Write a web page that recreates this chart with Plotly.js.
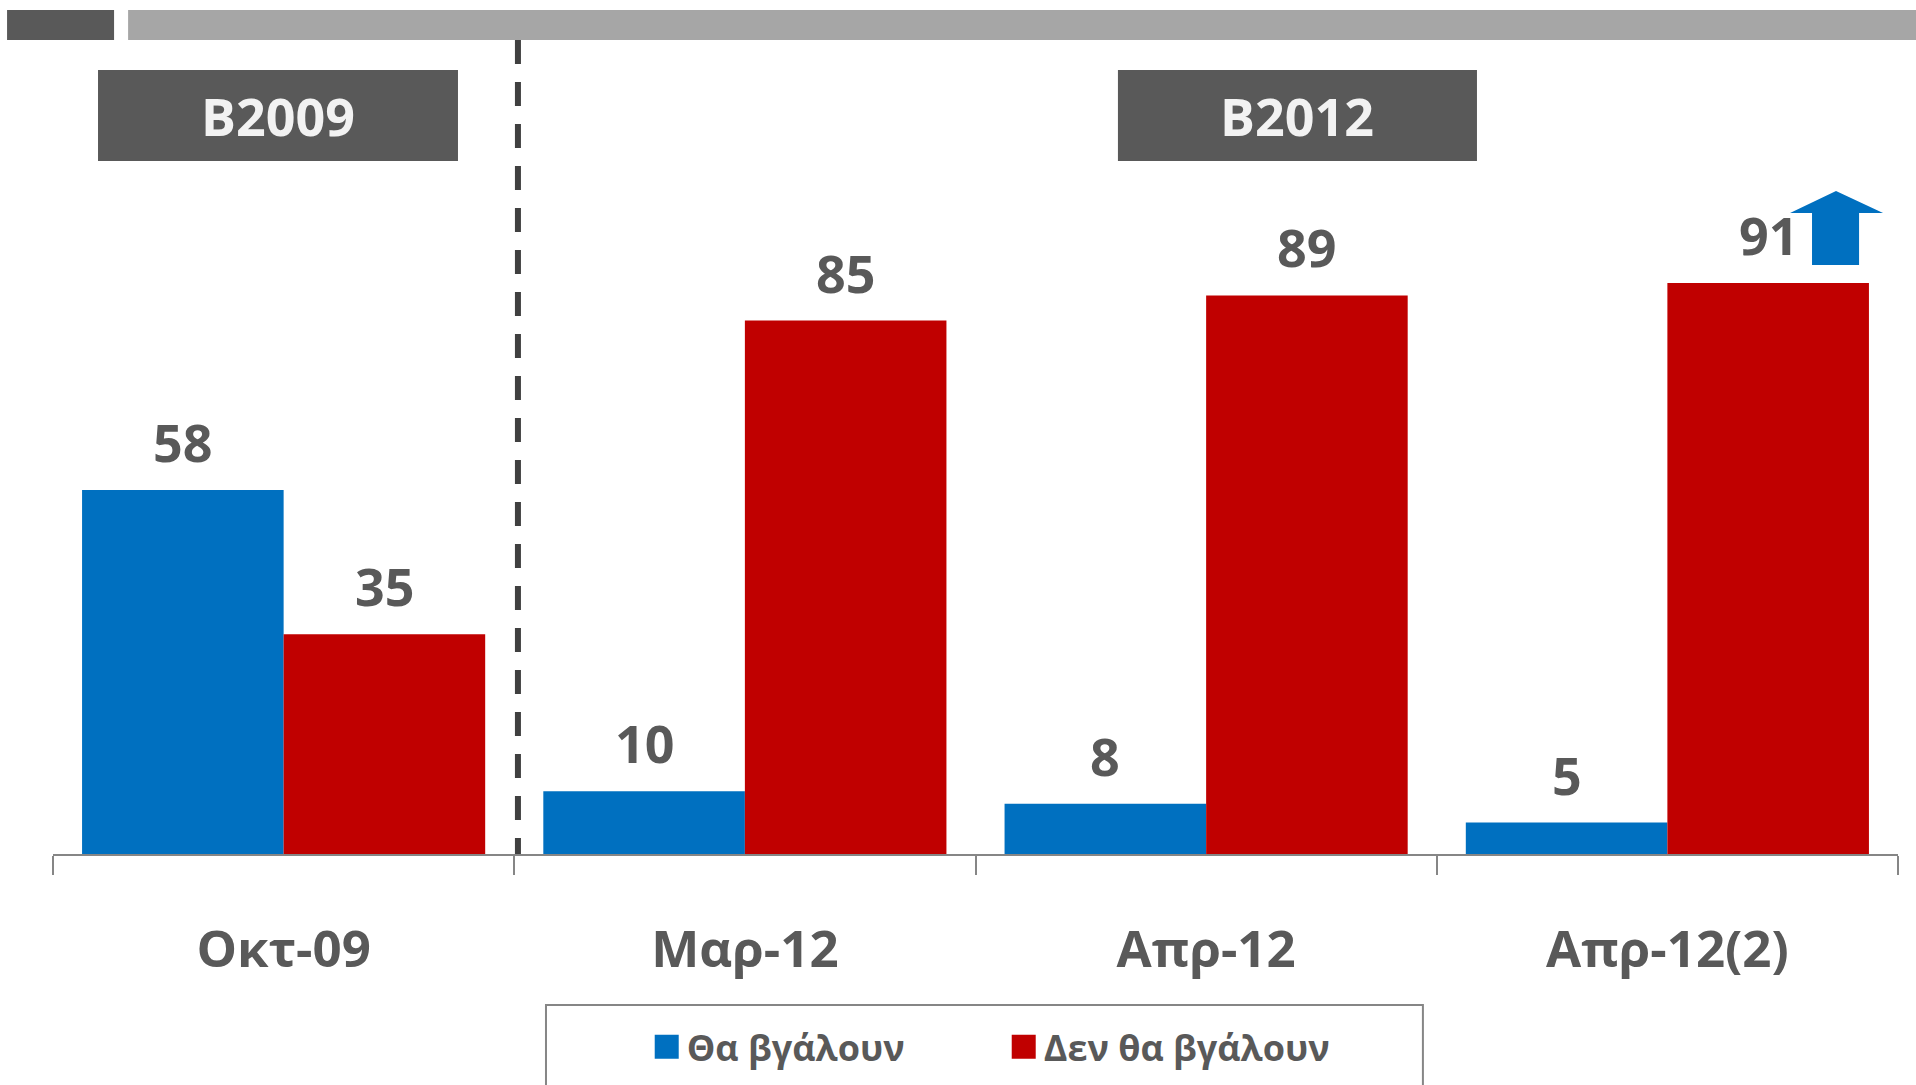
<!DOCTYPE html>
<html>
<head>
<meta charset="utf-8">
<script src="https://cdn.plot.ly/plotly-3.0.1.min.js"></script>
<style>
  html, body { margin: 0; padding: 0; background: #ffffff; }
  #chart { width: 1916px; height: 1085px; }
</style>
</head>
<body>
<div id="chart"></div>
<script>
// ---- data ----
const categories = ['Οκτ-09', 'Μαρ-12', 'Απρ-12', 'Απρ-12(2)'];
const willIssue = [58, 10, 8, 5];          // Θα βγάλουν
const willNotIssue = [35, 85, 89, 91];     // Δεν θα βγάλουν
const seriesNames = ['Θα βγάλουν', 'Δεν θα βγάλουν'];
const groupLabels = ['B2009', 'B2012'];

// ---- style ----
const FONT = "'Open Sans', 'Noto Sans', sans-serif";
const TEXT = '#595959';
const BLUE = '#0070C0';
const RED = '#C00000';
const BARGAP = 0.126;

const traces = [
  { type: 'bar', name: seriesNames[0], x: categories, y: willIssue,
    marker: { color: BLUE }, hoverinfo: 'none' },
  { type: 'bar', name: seriesNames[1], x: categories, y: willNotIssue,
    marker: { color: RED }, hoverinfo: 'none' }
];

// value labels above bars, positioned from the grouped-bar geometry
const half = (1 - BARGAP) / 4;
const annotations = [];
[willIssue, willNotIssue].forEach((vals, s) => {
  vals.forEach((v, i) => {
    annotations.push({
      xref: 'x', yref: 'y', x: i + (s === 0 ? -half : half), y: v,
      text: String(v), showarrow: false, yanchor: 'bottom', yshift: 11,
      font: { family: FONT, size: 52, color: TEXT, weight: 700 }
    });
  });
});

// group header boxes
const boxes = [[0.0244, 0.2195], [0.5772, 0.7718]];
boxes.forEach((b, k) => {
  annotations.push({
    xref: 'paper', yref: 'paper', x: (b[0] + b[1]) / 2, y: (0.9631 + 0.8514) / 2,
    text: groupLabels[k], showarrow: false, xanchor: 'center', yanchor: 'middle',
    font: { family: FONT, size: 52, color: '#F2F2F2', weight: 700 }
  });
});

const shapes = [
  // top decorative bars
  { type: 'rect', xref: 'paper', yref: 'paper', x0: -0.0249, x1: 0.0331, y0: 1.0, y1: 1.0369,
    fillcolor: '#595959', line: { width: 0 } },
  { type: 'rect', xref: 'paper', yref: 'paper', x0: 0.0407, x1: 1.02, y0: 1.0, y1: 1.0369,
    fillcolor: '#A6A6A6', line: { width: 0 } },
  // header boxes
  { type: 'rect', xref: 'paper', yref: 'paper', x0: boxes[0][0], x1: boxes[0][1], y0: 0.8514, y1: 0.9631,
    fillcolor: '#595959', line: { width: 0 } },
  { type: 'rect', xref: 'paper', yref: 'paper', x0: boxes[1][0], x1: boxes[1][1], y0: 0.8514, y1: 0.9631,
    fillcolor: '#595959', line: { width: 0 } },
  // dashed separator
  { type: 'line', xref: 'paper', yref: 'paper', x0: 0.2520, x1: 0.2520, y0: 1.0, y1: 0.0,
    line: { color: '#404040', width: 6, dash: '24px,18px' } },
  // blue up arrow
  { type: 'path', xref: 'paper', yref: 'paper',
    path: 'M 0.9664 0.8145 L 0.9919 0.7875 L 0.9789 0.7875 L 0.9789 0.7236 L 0.9534 0.7236 L 0.9534 0.7875 L 0.9415 0.7875 Z',
    fillcolor: BLUE, line: { width: 0 } },
  // legend frame
  { type: 'rect', xref: 'paper', yref: 'paper', x0: 0.2672, x1: 0.7425, y0: -0.1855, y1: -0.35,
    fillcolor: 'rgba(0,0,0,0)', line: { color: '#868686', width: 2 } }
];

const layout = {
  width: 1916, height: 1085,
  margin: { l: 53, r: 18, t: 40, b: 231, pad: 0, autoexpand: false },
  paper_bgcolor: '#ffffff', plot_bgcolor: '#ffffff',
  barmode: 'group', bargap: BARGAP, bargroupgap: 0,
  showlegend: true,
  legend: {
    orientation: 'h', x: 0.3218, xanchor: 'left', y: -0.237, yanchor: 'middle',
    font: { family: FONT, size: 36, color: TEXT, weight: 700 },
    bgcolor: 'rgba(0,0,0,0)', borderwidth: 0, entrywidth: 312, traceorder: 'normal'
  },
  xaxis: {
    type: 'category', categoryorder: 'array', categoryarray: categories,
    showline: true, linecolor: '#868686', linewidth: 2,
    ticks: 'outside', tickson: 'boundaries', ticklen: 19, tickwidth: 2, tickcolor: '#868686',
    ticklabelstandoff: 50,
    tickfont: { family: FONT, size: 51, color: TEXT, weight: 700 },
    showgrid: false, zeroline: false, fixedrange: true
  },
  yaxis: { range: [0, 129.7], visible: false, showgrid: false, zeroline: false, fixedrange: true },
  annotations: annotations,
  shapes: shapes
};

// make the legend colour squares twice as large, keeping Plotly's own placement
function enlargeLegendSymbols() {
  document.querySelectorAll('#chart .legendpoints path').forEach(p => {
    if (p.getAttribute('data-enlarged') === '1') return;
    const t = p.getAttribute('transform') || '';
    p.setAttribute('transform', (t + ' scale(2)').trim());
    p.setAttribute('data-enlarged', '1');
  });
}

const gd = document.getElementById('chart');
Plotly.newPlot(gd, traces, layout, { displayModeBar: false, staticPlot: true }).then(() => {
  enlargeLegendSymbols();
  gd.on('plotly_afterplot', enlargeLegendSymbols);
  setTimeout(enlargeLegendSymbols, 50);
});
</script>
</body>
</html>
